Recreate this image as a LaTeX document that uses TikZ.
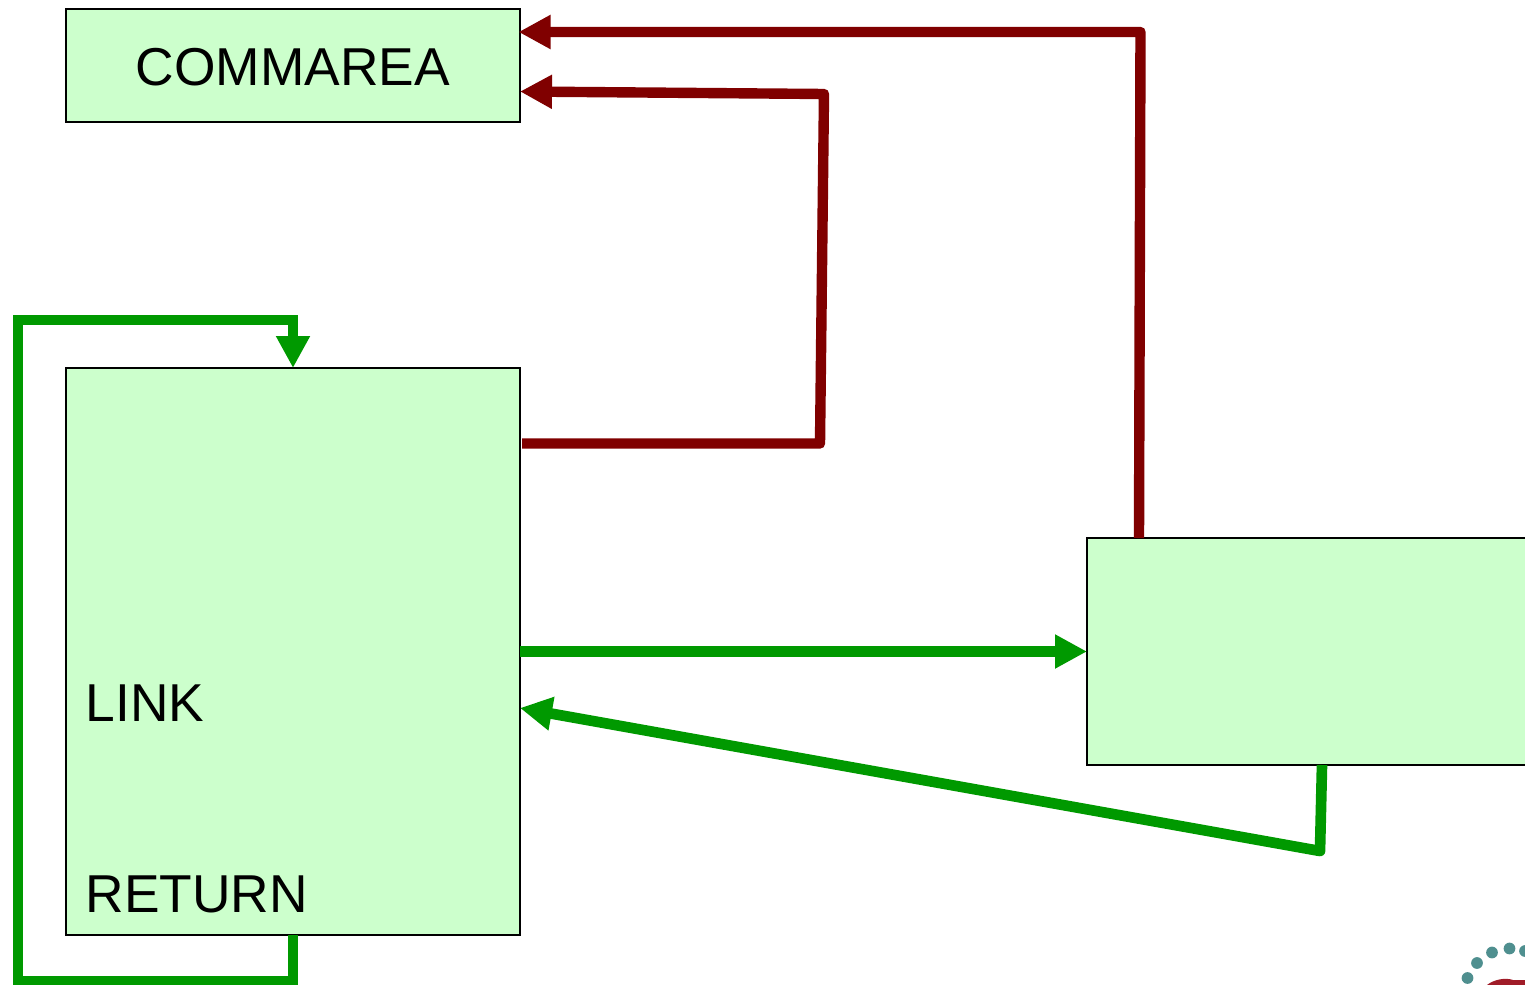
\documentclass[tikz,border=0pt]{standalone}
\usepackage{fontspec}
\setmainfont{Liberation Sans}
\usetikzlibrary{arrows.meta}
\definecolor{boxfill}{HTML}{CCFFCC}
\definecolor{flowgreen}{HTML}{009900}
\definecolor{flowred}{HTML}{800000}
\definecolor{logoteal}{HTML}{4F8F8F}
\definecolor{logored}{HTML}{A01C28}
\tikzset{
  x=0.75pt,y=-0.75pt,
  panel/.style={draw=black,fill=boxfill,line width=1.5pt,inner sep=0pt,anchor=north west},
  lbl/.style={inner sep=0pt,font=\fontsize{40}{44}\selectfont,text=black},
  greenflow/.style={draw=flowgreen,line width=8pt,line join=miter,-{Triangle[length=24pt,width=24pt,fill=flowgreen]}},
  redflow/.style={draw=flowred,line width=7.8pt,line join=round,-{Triangle[length=24pt,width=24pt,fill=flowred]}},
  dot/.style={circle,fill=logoteal,draw=none,minimum size=8.8pt,inner sep=0pt}
}
\begin{document}
\begin{tikzpicture}
\useasboundingbox (0,0) rectangle (1525,985);
\fill[white] (0,0) rectangle (1525,985);
% boxes
\node[panel,minimum width=340.5pt,minimum height=84.75pt] (comm) at (65,7.5) {};
\node[panel,minimum width=340.5pt,minimum height=425.25pt] (prog) at (65,367) {};
\node[panel,minimum width=340.5pt,minimum height=170.25pt] (sub) at (1086,537) {};
% labels
\node[lbl] (commtext) at (293,67) {COMMAREA};
\node[lbl,anchor=base west] (linktext) at (85.5,721) {LINK};
\node[lbl,anchor=base west] (rettext) at (85.5,912) {RETURN};
% red flows
\coordinate (r1a) at (522,443.5);
\coordinate (r1b) at (820,443.5);
\coordinate (r1c) at (824,94);
\coordinate (r1d) at (520,91.5);
\coordinate (r2a) at (1139,538);
\coordinate (r2b) at (1140.5,32);
\coordinate (r2c) at (518.5,32);
\draw[redflow] (r1a) -- (r1b) -- (r1c) -- (r1d);
\draw[redflow] (r2a) -- (r2b) -- (r2c);
% green flows
\coordinate (g1a) at (520,651.5);
\coordinate (g1b) at (1087,651.5);
\draw[greenflow] (g1a) -- (g1b);
\coordinate (g2a) at (1322,765);
\coordinate (g2b) at (1320,851);
\coordinate (g2c) at (520,708);
\draw[greenflow,line join=round] (g2a) -- (g2b) -- (g2c);
\coordinate (g3a) at (293,935);
\coordinate (g3b) at (293,981.5);
\coordinate (g3c) at (18,981.5);
\coordinate (g3d) at (18,320);
\coordinate (g3e) at (293,320);
\coordinate (g3f) at (293,368);
\draw[greenflow] (g3a) -- (g3b) -- (g3c) -- (g3d) -- (g3e) -- (g3f);
% logo fragment
\node[dot] (d1) at (1467.5,978) {};
\node[dot] (d2) at (1477,963) {};
\node[dot] (d3) at (1492,952.5) {};
\node[dot] (d4) at (1509.5,948.5) {};
\node[dot] (d5) at (1525,951) {};
\fill[logored] (1487,985) .. controls (1493,980) and (1505,977) .. (1513,980) -- (1525,980) -- (1525,985) -- cycle;
\end{tikzpicture}
\end{document}
